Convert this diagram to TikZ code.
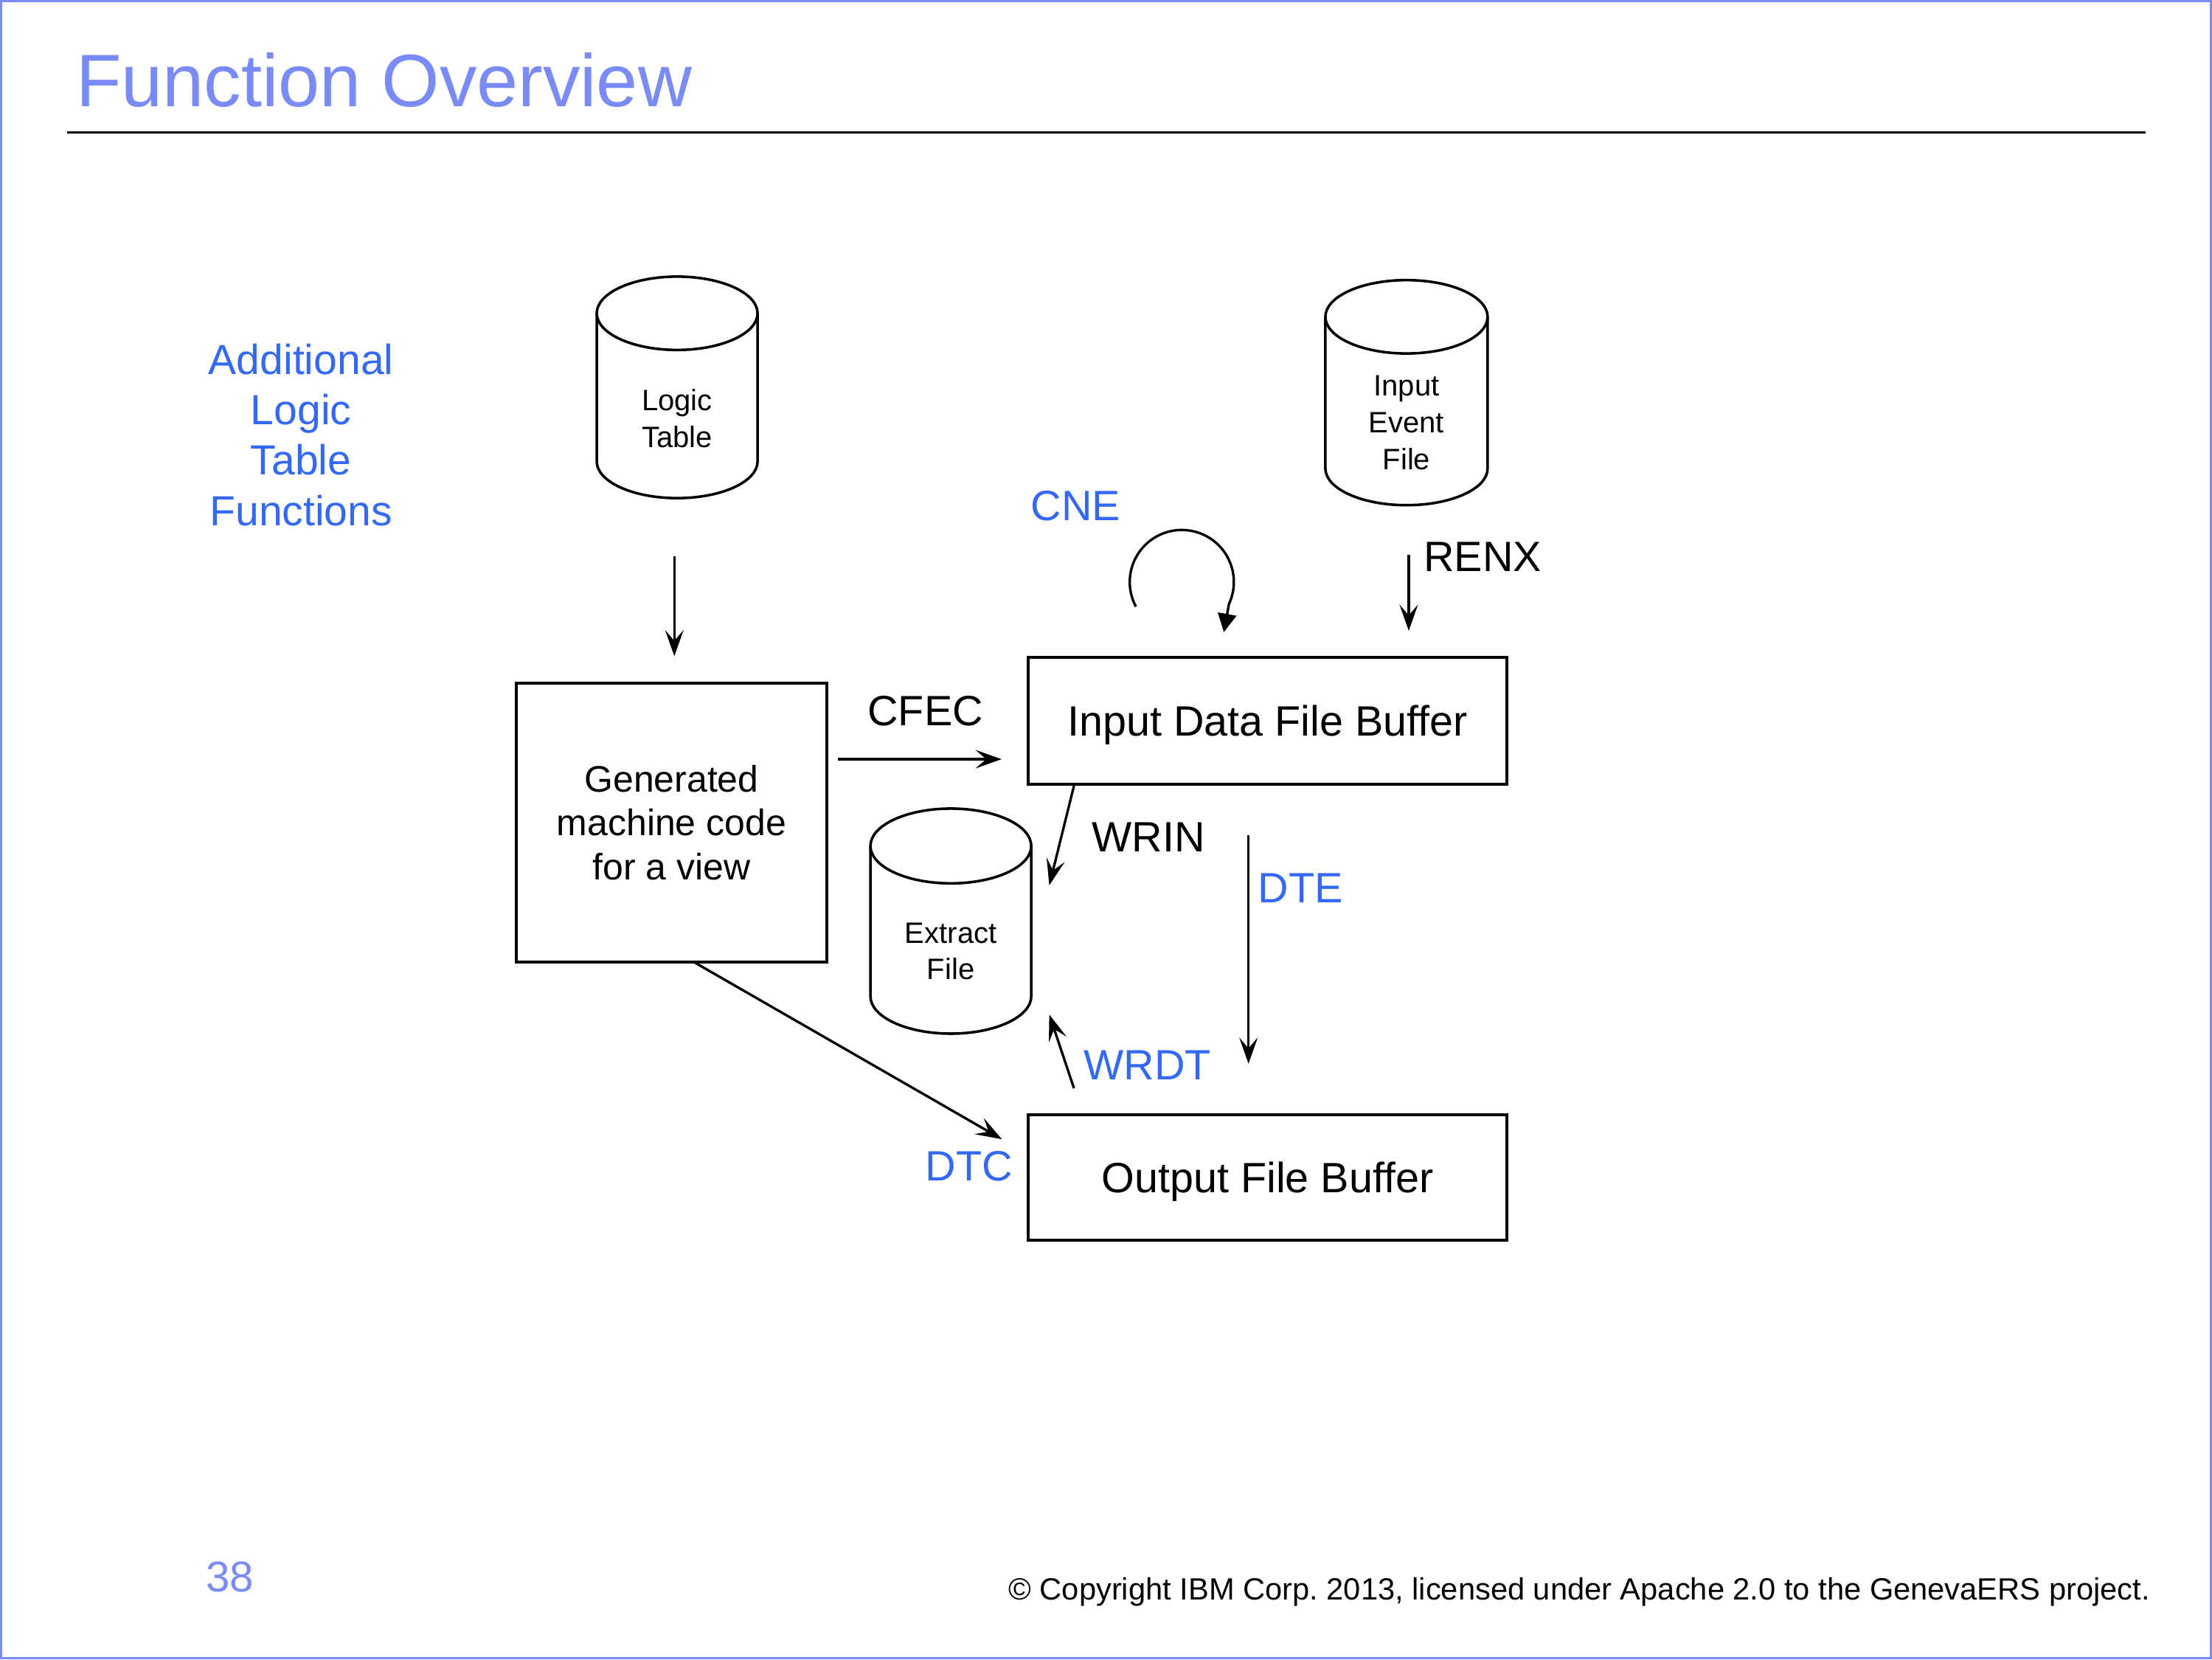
\documentclass[tikz,border=0pt]{standalone}
\usepackage{fontspec}
\setmainfont{Liberation Sans}
\usetikzlibrary{arrows.meta}
\definecolor{slidetitle}{RGB}{122,138,247}
\definecolor{fnblue}{RGB}{52,104,246}
\newcommand\fsz[2]{\fontsize{#1}{#2}\selectfont}
\frenchspacing
% data-set drum: centre x, top-ellipse y, bottom-ellipse y, x radius, y radius
\newcommand\drawdrum[5]{%
  \draw[drumline] (#1-#4,#2) -- (#1-#4,#3)
    arc[start angle=180, end angle=0, x radius=#4, y radius=#5] -- (#1+#4,#2);
  \draw[drumline] (#1,#2) ellipse[x radius=#4, y radius=#5];
}

\begin{document}
\begin{tikzpicture}[x=0.4592pt, y=-0.4592pt,
  every node/.style={inner sep=0pt, outer sep=0pt},
  big/.style={font=\fsz{13.8pt}{16.5pt}, anchor=base},
  fn/.style={big, text=fnblue},
  op/.style={big, text=black},
  procbox/.style={draw, line width=0.95pt},
  drumtext/.style={font=\fsz{9.6pt}{12pt}, align=center, anchor=north},
  drumline/.style={line width=0.85pt},
  flow/.style={line width=0.8pt, -{Stealth[length=8.5pt, width=6pt, inset=3.5pt]}},
  loopflow/.style={line width=0.8pt, -{Triangle[length=6pt, width=6pt]}}
]
\useasboundingbox (0,0) rectangle (1568,1176);

% slide frame, title and rule
\draw[slidetitle, line width=0.72pt] (0.8,0.8) rectangle (1567.2,1175.2);
\node[anchor=base west, font=\fsz{24.2pt}{29pt}, text=slidetitle] (title) at (54,75.8) {Function Overview};
\coordinate (rule-l) at (47.4,94);
\coordinate (rule-r) at (1521,94);
\draw[line width=0.8pt] (rule-l) -- (rule-r);

% side note
\node[font=\fsz{13.7pt}{16.4pt}, text=fnblue, align=center, anchor=north] (extra) at (213.4,243.6)
  {Additional\\Logic\\Table\\Functions};

% data sets
\drawdrum{480}{222}{327}{57}{26}
\node[drumtext] (logic) at (480,276) {Logic\\Table};
\drawdrum{997}{224.5}{332}{57.5}{26}
\node[drumtext] (event) at (997,266) {Input\\Event\\File};
\drawdrum{674}{599.5}{706}{57}{26.5}
\node[drumtext] (extract) at (674,653.8) {Extract\\File};

% processing boxes
\node[procbox, align=center, minimum width=220*0.4592pt, minimum height=198*0.4592pt,
      font=\fsz{12pt}{14.35pt}] (gen) at (476,583) {Generated\\machine code\\for a view};
\node[procbox, minimum width=339*0.4592pt, minimum height=90*0.4592pt,
      font=\fsz{13.8pt}{16.5pt}, text height=9.88pt, text depth=0pt] (idfb) at (898.5,511) {Input Data File Buffer};
\node[procbox, minimum width=339*0.4592pt, minimum height=89*0.4592pt,
      font=\fsz{13.8pt}{16.5pt}, text height=9.88pt, text depth=0pt] (ofb) at (898.5,834.5) {Output File Buffer};

% function labels
\node[fn] (cne)  at (762.5,369)  {CNE};
\node[op] (renx) at (1051,405)   {RENX};
\node[op] (cfec) at (656,514)    {CFEC};
\node[op] (wrin) at (814,603.4)  {WRIN};
\node[fn] (dte)  at (922,639.6)  {DTE};
\node[fn] (wrdt) at (813.3,765)  {WRDT};
\node[fn] (dtc)  at (687,837)    {DTC};

% connector ends
\coordinate (lt-s)   at (478,394);   \coordinate (lt-t)   at (478,465);
\coordinate (renx-s) at (998.6,393); \coordinate (renx-t) at (998.6,447);
\coordinate (cfec-s) at (594,538);   \coordinate (cfec-t) at (710,538);
\coordinate (wrin-s) at (761.3,556.8); \coordinate (wrin-t) at (743.8,627.4);
\coordinate (dte-s)  at (885,592);   \coordinate (dte-t)  at (885,753.8);
\coordinate (wrdt-s) at (761.3,771.2); \coordinate (wrdt-t) at (743.8,719);
\coordinate (dtc-s)  at (492.3,682); \coordinate (dtc-t)  at (710.2,807.3);
\coordinate (cne-s)  at (805.2,429.9); \coordinate (cne-t) at (867.5,448);

% connectors
\draw[flow] (lt-s) -- (lt-t);
\draw[flow] (renx-s) -- (renx-t);
\draw[flow] (cfec-s) -- (cfec-t);
\draw[flow] (wrin-s) -- (wrin-t);
\draw[flow] (dte-s) -- (dte-t);
\draw[flow] (wrdt-s) -- (wrdt-t);
\draw[flow] (dtc-s) -- (dtc-t);
\draw[loopflow] (cne-s) arc[start angle=151.8, end angle=385, radius=36.9] -- (cne-t);

% footer
\node[font=\fsz{14pt}{16pt}, text=slidetitle, anchor=base] (pageno) at (163,1128) {38};
\node[font=\fsz{10pt}{12pt}, anchor=base east] (copyright) at (1524,1134)
  {\textcopyright{} Copyright IBM Corp. 2013, licensed under Apache 2.0 to the GenevaERS project.};
\end{tikzpicture}
\end{document}
